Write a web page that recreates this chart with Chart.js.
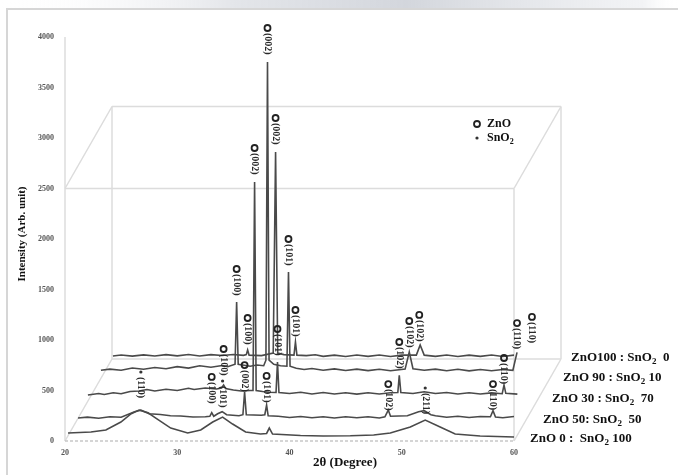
<!DOCTYPE html>
<html>
<head>
<meta charset="utf-8">
<script src="https://cdn.jsdelivr.net/npm/chart.js@4.4.1/dist/chart.umd.min.js"></script>
<style>
html, body { margin: 0; padding: 0; background: #fff; }
</style>
</head>
<body>
<canvas id="xrd" width="678" height="475"></canvas>
<script>
// tick labels
var xTicks = [20, 30, 40, 50, 60]
var yTicks = [0, 500, 1000, 1500, 2000, 2500, 3000, 3500, 4000]

var seriesNames = ['ZnO 0 :  SnO2 100', 'ZnO 50: SnO2  50', 'ZnO 30 : SnO2  70', 'ZnO 90 : SnO2 10', 'ZnO100 : SnO2  0']

// [2theta, intensity], front trace first
var zno0 = [[20.27,79],[22.31,89],[23.64,109],[24.98,188],[25.9,270],[26.6,306],[27.4,280],[28.09,227],[29.42,128],[30.93,79],[32.09,109],[33.16,188],[34.04,237],[34.93,168],[36.09,89],[37.42,69],[37.96,75],[38.2,128],[38.49,69],[40.98,55],[43,50],[45.42,52],[47.5,60],[48.98,79],[50.76,138],[52.09,207],[53.42,138],[54.76,69],[56.98,50],[60,40]]
var zno50 = [[21.16,228],[22,236],[23,226],[24,240],[25,235],[26.2,290],[26.76,305],[27.5,270],[28.5,262],[29.4,250],[30.3,248],[31.4,238],[32.5,240],[32.9,245],[33.07,280],[33.25,245],[33.6,270],[34.0,290],[34.4,260],[35.5,250],[35.85,260],[36.0,485],[36.15,260],[37.5,255],[37.8,260],[37.96,356],[38.1,250],[39,245],[40,232],[41,243],[42,230],[43,240],[44,228],[45,240],[46,230],[47,240],[48,228],[48.5,240],[48.8,306],[49.0,245],[50.5,250],[51.5,290],[52.0,300],[52.6,260],[53,250],[54,235],[55,245],[56,232],[57,242],[57.9,240],[58.13,300],[58.35,238],[59,230],[60,242],[61.4,228]]
var zno30 = [[22.04,455],[23,470],[23.5,460],[24.3,478],[25,468],[25.8,490],[26.6,495],[27.3,510],[28,495],[29,512],[30,500],[31,522],[31.5,510],[32.5,525],[33.5,515],[33.95,525],[34.13,555],[34.3,520],[35,505],[35.7,495],[36.5,500],[36.75,500],[36.89,2564],[37.03,500],[37.6,490],[38.2,482],[38.8,480],[38.93,782],[39.06,480],[40,470],[41,482],[42,466],[43,480],[44,465],[45,478],[46,464],[47,478],[48,466],[49,478],[49.65,480],[49.78,650],[49.92,480],[51,470],[52,488],[53,470],[54,480],[55,466],[56,478],[57,465],[58,476],[58.95,468],[59.11,554],[59.27,472],[60.3,464],[61.2,476],[62.3,466]]
var zno90 = [[23.2,700],[24,712],[25,700],[26,722],[27,710],[28,728],[29,715],[30,736],[31,722],[32,745],[33,730],[34,748],[34.5,735],[35.15,760],[35.29,1376],[35.43,760],[36.5,740],[37.1,752],[37.7,745],[37.9,800],[38.04,3752],[38.18,800],[38.6,760],[39.2,745],[39.77,740],[39.91,1673],[40.05,740],[40.6,720],[41.3,708],[42,718],[43,700],[44,714],[45,698],[46,712],[47,697],[48,710],[49,696],[50.3,712],[50.67,880],[51.0,715],[52,700],[53,712],[54,696],[55,710],[56,694],[57,708],[58,695],[59,708],[59.9,700],[60.27,877],[60.6,702],[61.5,710],[62.2,694],[63,702]]
var zno100 = [[24.27,842],[25,852],[26,840],[27,853],[28,841],[29,855],[30,843],[31,856],[32,842],[33,855],[34,846],[35,856],[35.9,848],[36.15,855],[36.27,901],[36.4,850],[37.5,845],[38.55,870],[38.76,2861],[38.95,870],[39.5,855],[40.4,850],[40.53,980],[40.66,850],[41.5,845],[42.3,854],[43,838],[44,850],[45,836],[46,852],[47,838],[48,851],[49,836],[50,850],[51.3,850],[51.64,950],[52.0,850],[53,838],[54,852],[55,836],[56,850],[57,838],[58,852],[59,836],[60,850],[61.35,845],[61.6,950],[61.85,845],[62.6,852],[63.3,836],[64.09,844]]

// peak labels: [2theta, intensity of marker, hkl, phase]
var peakLabels = [
  [36.27,1218,'(100)','ZnO'],[38.76,3198,'(002)','ZnO'],[40.53,1297,'(101)','ZnO'],
  [35.29,1703,'(100)','ZnO'],[38.04,4089,'(002)','ZnO'],[39.91,2000,'(101)','ZnO'],
  [34.13,911,'(100)','ZnO'],[36.89,2901,'(002)','ZnO'],[38.93,1109,'(101)','ZnO'],
  [33.07,634,'(100)','ZnO'],[36.0,752,'(002)','ZnO'],[37.96,644,'(101)','ZnO'],
  [51.56,1248,'(102)','ZnO'],[50.67,1188,'(102)','ZnO'],[49.78,980,'(102)','ZnO'],[48.8,564,'(102)','ZnO'],
  [61.6,1228,'(110)','ZnO'],[60.27,1168,'(110)','ZnO'],[59.11,822,'(110)','ZnO'],[58.13,564,'(110)','ZnO'],
  [26.76,683,'(110)','SnO2'],[34.04,594,'(101)','SnO2'],[52.09,525,'(211)','SnO2']
]

var serif = '"Liberation Serif", "Times New Roman", serif'
var depthX = 47, depthY = -82
var nameAt = [[530,439],[543,420],[552,399],[563,378],[571,358]]

function toPts(arr) {
    return arr.map(function (p) { return { x: p[0], y: p[1] } })
}

// draws text where the 2 after "SnO" is a subscript
function subText(ctx, str, x, y, size) {
    var parts = str.split('SnO2')
    ctx.font = 'bold ' + size + 'px ' + serif
    ctx.fillText(parts[0], x, y)
    x += ctx.measureText(parts[0]).width
    if (parts.length > 1) {
        ctx.fillText('SnO', x, y)
        x += ctx.measureText('SnO').width
        ctx.font = 'bold ' + Math.round(size * 0.7) + 'px ' + serif
        ctx.fillText('2', x, y + size * 0.3)
        x += ctx.measureText('2').width
        ctx.font = 'bold ' + size + 'px ' + serif
        ctx.fillText(parts[1], x, y)
    }
}

function marker(ctx, x, y, phase) {
    ctx.save()
    if (phase == 'ZnO') {
        ctx.strokeStyle = '#222'
        ctx.lineWidth = 1.8
        ctx.beginPath()
        ctx.arc(x, y, 3, 0, Math.PI * 2)
        ctx.stroke()
    } else {
        ctx.fillStyle = '#333'
        ctx.beginPath()
        ctx.arc(x, y, 1.6, 0, Math.PI * 2)
        ctx.fill()
    }
    ctx.restore()
}

var box3d = {
    id: 'box3d',
    beforeDraw: function (chart) {
        var ctx = chart.ctx
        ctx.save()
        var g = ctx.createLinearGradient(0, 0, 678, 0)
        g.addColorStop(0, 'rgba(255,255,255,0)')
        g.addColorStop(0.35, 'rgba(215,218,224,0.7)')
        g.addColorStop(0.6, 'rgba(200,204,212,0.8)')
        g.addColorStop(0.95, 'rgba(230,232,236,0.5)')
        g.addColorStop(1, 'rgba(255,255,255,0)')
        ctx.fillStyle = g
        ctx.fillRect(0, 0, 678, 8)
        ctx.strokeStyle = '#d6d6d6'
        ctx.lineWidth = 2
        ctx.beginPath()
        ctx.moveTo(7, 475)
        ctx.lineTo(7, 9)
        ctx.lineTo(678, 9)
        ctx.stroke()
        ctx.restore()
    },
    beforeDatasetsDraw: function (chart) {
        var ctx = chart.ctx
        var sx = chart.scales.x, sy = chart.scales.y
        var x0 = sx.getPixelForValue(20), x1 = sx.getPixelForValue(60)
        var yb = sy.getPixelForValue(0), yt = sy.getPixelForValue(2500), ymax = sy.getPixelForValue(4000)
        ctx.save()
        ctx.strokeStyle = '#dcdcdc'
        ctx.lineWidth = 1.5
        var segs = [
            [x0, yt, x1, yt], [x0, yt, x0 + depthX, yt + depthY], [x0 + depthX, yt + depthY, x1 + depthX, yt + depthY],
            [x1 + depthX, yt + depthY, x1, yt], [x1, yt, x1, yb], [x1 + depthX, yt + depthY, x1 + depthX, yb + depthY],
            [x0 + depthX, yt + depthY, x0 + depthX, yb + depthY], [x0 + depthX, yb + depthY, x1 + depthX, yb + depthY],
            [x0, yb, x0 + depthX, yb + depthY], [x1, yb, x1 + depthX, yb + depthY], [x0, yb, x0, ymax]
        ]
        segs.forEach(function (s) {
            ctx.beginPath()
            ctx.moveTo(s[0], s[1])
            ctx.lineTo(s[2], s[3])
            ctx.stroke()
        })
        ctx.setLineDash([3, 2])
        ctx.strokeStyle = '#c8c8c8'
        ctx.beginPath()
        ctx.moveTo(x0, yb)
        ctx.lineTo(x1, yb)
        ctx.stroke()
        ctx.restore()
    },
    afterDatasetsDraw: function (chart) {
        var ctx = chart.ctx
        var sx = chart.scales.x, sy = chart.scales.y
        ctx.save()
        // peak labels
        peakLabels.forEach(function (p) {
            var x = sx.getPixelForValue(p[0]), y = sy.getPixelForValue(p[1])
            marker(ctx, x, y, p[3])
            ctx.save()
            ctx.translate(x, y + 5)
            ctx.rotate(Math.PI / 2)
            ctx.fillStyle = '#2a2a2a'
            ctx.font = 'bold 10px ' + serif
            ctx.textAlign = 'left'
            ctx.textBaseline = 'middle'
            ctx.fillText(p[2], 0, 0)
            ctx.restore()
        })
        // series names
        ctx.fillStyle = '#111'
        ctx.textAlign = 'left'
        ctx.textBaseline = 'middle'
        seriesNames.forEach(function (n, i) {
            subText(ctx, n, nameAt[i][0], nameAt[i][1], 13)
        })
        // legend
        marker(ctx, 477, 124, 'ZnO')
        marker(ctx, 477, 138, 'SnO2')
        subText(ctx, 'ZnO', 487, 124, 12)
        subText(ctx, 'SnO2', 487, 138, 12)
        // axis titles
        ctx.textAlign = 'center'
        ctx.font = 'bold 13px ' + serif
        ctx.fillText('2θ (Degree)', 345, 463)
        ctx.save()
        ctx.translate(22, 234)
        ctx.rotate(-Math.PI / 2)
        ctx.font = 'bold 11px ' + serif
        ctx.fillText('Intensity (Arb. unit)', 0, 0)
        ctx.restore()
        ctx.restore()
    }
}

var traces = [zno0, zno50, zno30, zno90, zno100]
var datasets = traces.map(function (t, i) {
    return {
        label: seriesNames[i],
        data: toPts(t),
        borderColor: '#4a4a4a',
        borderWidth: 1.6,
        pointRadius: 0,
        tension: 0,
        clip: false
    }
})

var ctx1 = document.getElementById('xrd').getContext('2d')
var myChart = new Chart(ctx1, {
    type: 'line',
    data: { datasets: datasets },
    options: {
        responsive: false,
        animation: false,
        layout: { padding: { left: 0, right: 164, top: 37, bottom: 0 } },
        plugins: { legend: { display: false }, tooltip: { enabled: false } },
        scales: {
            x: {
                type: 'linear', min: 20, max: 60,
                afterBuildTicks: function (s) { s.ticks = xTicks.map(function (v) { return { value: v } }) },
                afterFit: function (s) { s.height = 34 },
                grid: { display: false, drawTicks: false }, border: { display: false },
                ticks: { color: '#555', font: { family: serif, size: 8, weight: 'bold' }, padding: 7,
                    callback: function (v) { return String(v) } }
            },
            y: {
                min: 0, max: 4000,
                afterBuildTicks: function (s) { s.ticks = yTicks.map(function (v) { return { value: v } }) },
                afterFit: function (s) { s.width = 65 },
                grid: { display: false, drawTicks: false }, border: { display: false },
                ticks: { color: '#555', font: { family: serif, size: 8, weight: 'bold' }, padding: 11,
                    callback: function (v) { return String(v) } }
            }
        }
    },
    plugins: [box3d]
})
</script>
</body>
</html>
